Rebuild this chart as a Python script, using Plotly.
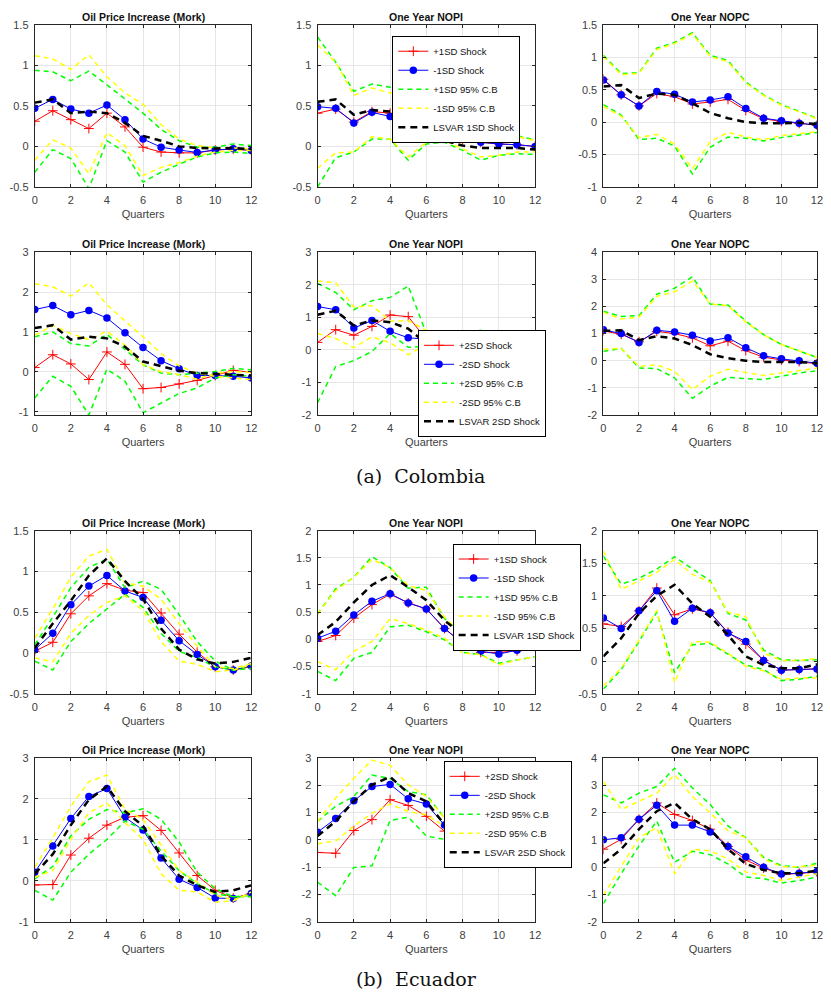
import plotly.graph_objects as go

QUARTERS = list(range(13))

# ---------------- Colombia, Oil Price Increase (Mork), 1SD ----------------
COL_OIL_1SD_POS = [0.31, 0.44, 0.33, 0.22, 0.41, 0.24, -0.01, -0.07, -0.08, -0.08, -0.045, -0.035, -0.05]
COL_OIL_1SD_NEG = [0.47, 0.58, 0.46, 0.41, 0.51, 0.33, 0.09, -0.01, -0.045, -0.075, -0.045, -0.03, -0.05]
COL_OIL_1SD_GUP = [0.94, 0.92, 0.81, 0.93, 0.76, 0.58, 0.41, 0.21, 0.07, -0.01, -0.01, 0.03, 0.01]
COL_OIL_1SD_GLO = [-0.32, -0.04, -0.15, -0.52, 0.07, -0.07, -0.44, -0.32, -0.22, -0.13, -0.08, -0.07, -0.09]
COL_OIL_1SD_YUP = [1.12, 1.08, 0.95, 1.13, 0.86, 0.66, 0.52, 0.27, 0.09, 0.01, -0.02, -0.02, -0.03]
COL_OIL_1SD_YLO = [-0.17, 0.08, -0.02, -0.34, 0.17, 0.01, -0.36, -0.26, -0.2, -0.12, -0.07, -0.05, -0.05]
COL_OIL_1SD_LSV = [0.54, 0.58, 0.41, 0.43, 0.41, 0.29, 0.13, 0.07, 0.0, -0.02, -0.025, -0.02, -0.035]

# ---------------- Colombia, One Year NOPI, 1SD ----------------
COL_NOPI_1SD_POS = [0.41, 0.46, 0.30, 0.43, 0.41, 0.35, 0.17, 0.17, 0.09, 0.05, 0.03, 0.02, 0.0]
COL_NOPI_1SD_NEG = [0.49, 0.47, 0.29, 0.42, 0.37, 0.32, 0.19, 0.18, 0.09, 0.05, 0.03, 0.02, 0.0]
COL_NOPI_1SD_GUP = [1.35, 1.04, 0.68, 0.77, 0.73, 0.70, 0.31, 0.27, 0.22, 0.26, 0.18, 0.13, 0.08]
COL_NOPI_1SD_GLO = [-0.5, -0.14, -0.07, 0.09, 0.09, -0.17, 0.03, 0.05, -0.05, -0.17, -0.11, -0.09, -0.10]
COL_NOPI_1SD_YUP = [1.25, 1.04, 0.63, 0.72, 0.66, 0.70, 0.31, 0.25, 0.21, 0.25, 0.17, 0.12, 0.07]
COL_NOPI_1SD_YLO = [-0.27, -0.08, -0.07, 0.12, 0.09, -0.13, 0.05, 0.07, -0.03, -0.13, -0.11, -0.07, -0.07]
COL_NOPI_1SD_LSV = [0.55, 0.58, 0.39, 0.45, 0.43, 0.31, 0.13, 0.07, 0.01, -0.02, -0.02, -0.02, -0.04]

# ---------------- Colombia, One Year NOPC, 1SD ----------------
COL_NOPC_1SD_POS = [0.66, 0.42, 0.25, 0.44, 0.39, 0.28, 0.31, 0.35, 0.18, 0.05, 0.01, -0.02, -0.05]
COL_NOPC_1SD_NEG = [0.65, 0.42, 0.25, 0.47, 0.43, 0.31, 0.34, 0.39, 0.21, 0.06, 0.02, -0.02, -0.05]
COL_NOPC_1SD_GUP = [1.03, 0.75, 0.76, 1.14, 1.23, 1.38, 1.03, 0.95, 0.62, 0.42, 0.27, 0.17, 0.06]
COL_NOPC_1SD_GLO = [0.27, 0.11, -0.27, -0.25, -0.37, -0.80, -0.39, -0.23, -0.25, -0.29, -0.24, -0.20, -0.16]
COL_NOPC_1SD_YUP = [1.01, 0.73, 0.75, 1.12, 1.21, 1.36, 1.01, 0.93, 0.60, 0.41, 0.26, 0.16, 0.05]
COL_NOPC_1SD_YLO = [0.24, 0.09, -0.24, -0.19, -0.34, -0.72, -0.30, -0.16, -0.23, -0.27, -0.21, -0.18, -0.15]
COL_NOPC_1SD_LSV = [0.55, 0.57, 0.37, 0.44, 0.42, 0.29, 0.14, 0.06, 0.0, -0.02, -0.02, -0.01, -0.03]

# ---------------- Colombia, Oil Price Increase (Mork), 2SD ----------------
COL_OIL_2SD_POS = [0.11, 0.43, 0.2, -0.19, 0.5, 0.19, -0.42, -0.39, -0.3, -0.21, -0.09, 0.04, -0.01]
COL_OIL_2SD_NEG = [1.56, 1.66, 1.43, 1.54, 1.35, 0.98, 0.61, 0.28, 0.08, -0.09, -0.09, -0.11, -0.15]
COL_OIL_2SD_GUP = [0.88, 1.0, 0.71, 0.65, 0.94, 0.56, 0.18, -0.03, -0.07, -0.03, 0.01, 0.09, 0.05]
COL_OIL_2SD_GLO = [-0.65, -0.11, -0.36, -1.08, 0.07, -0.23, -1.02, -0.77, -0.54, -0.4, -0.15, -0.07, -0.11]
COL_OIL_2SD_YUP = [2.21, 2.13, 1.9, 2.23, 1.68, 1.29, 0.88, 0.46, 0.15, -0.03, -0.11, -0.15, -0.19]
COL_OIL_2SD_YLO = [0.92, 1.16, 0.96, 0.81, 1.02, 0.67, 0.18, 0.01, -0.07, -0.18, -0.03, 0.01, -0.01]
COL_OIL_2SD_LSV = [1.1, 1.17, 0.81, 0.88, 0.84, 0.63, 0.26, 0.15, 0.03, -0.03, -0.05, -0.07, -0.09]

# ---------------- Colombia, One Year NOPI, 2SD ----------------
COL_NOPI_2SD_POS = [0.23, 0.62, 0.45, 0.72, 1.07, 1.02, 0.32, 0.35, 0.2, 0.2, 0.13, 0.08, 0.0]
COL_NOPI_2SD_NEG = [1.33, 1.23, 0.67, 0.9, 0.57, 0.37, 0.33, 0.36, 0.16, 0.0, 0.0, 0.02, -0.02]
COL_NOPI_2SD_GUP = [2.04, 1.76, 1.23, 1.51, 1.61, 1.96, 0.5, 0.55, 0.52, 0.6, 0.4, 0.3, 0.2]
COL_NOPI_2SD_GLO = [-1.62, -0.51, -0.33, -0.05, 0.5, 0.08, 0.1, 0.15, -0.1, -0.2, -0.1, -0.15, -0.2]
COL_NOPI_2SD_YUP = [2.11, 2.06, 1.31, 1.36, 0.88, 0.9, 0.6, 0.48, 0.3, 0.28, 0.2, 0.15, 0.05]
COL_NOPI_2SD_YLO = [0.5, 0.35, 0.07, 0.4, 0.22, -0.15, 0.17, 0.2, -0.05, -0.28, -0.18, -0.1, -0.15]
COL_NOPI_2SD_LSV = [1.08, 1.2, 0.75, 0.9, 0.85, 0.65, 0.2, 0.13, 0.02, -0.05, -0.05, -0.05, -0.08]

# ---------------- Colombia, One Year NOPC, 2SD ----------------
COL_NOPC_2SD_POS = [1.1, 0.97, 0.7, 1.08, 1.0, 0.84, 0.55, 0.72, 0.37, 0.13, 0.03, -0.03, -0.11]
COL_NOPC_2SD_NEG = [1.14, 1.0, 0.67, 1.12, 1.06, 0.94, 0.73, 0.85, 0.48, 0.18, 0.07, 0.0, -0.09]
COL_NOPC_2SD_GUP = [1.82, 1.63, 1.66, 2.45, 2.67, 3.09, 2.09, 2.05, 1.46, 0.96, 0.6, 0.36, 0.12]
COL_NOPC_2SD_GLO = [0.34, 0.46, -0.27, -0.29, -0.63, -1.38, -0.94, -0.61, -0.66, -0.69, -0.57, -0.45, -0.37]
COL_NOPC_2SD_YUP = [1.78, 1.54, 1.6, 2.37, 2.54, 2.94, 2.09, 2.03, 1.42, 0.96, 0.6, 0.36, 0.12]
COL_NOPC_2SD_YLO = [0.42, 0.46, -0.21, -0.15, -0.39, -1.06, -0.57, -0.31, -0.43, -0.54, -0.45, -0.35, -0.27]
COL_NOPC_2SD_LSV = [1.1, 1.12, 0.76, 0.9, 0.82, 0.58, 0.24, 0.09, 0.0, -0.05, -0.05, -0.05, -0.09]

# ---------------- Ecuador, Oil Price Increase (Mork), 1SD ----------------
ECU_OIL_1SD_POS = [0.02, 0.13, 0.48, 0.7, 0.85, 0.77, 0.74, 0.49, 0.23, 0.01, -0.17, -0.21, -0.17]
ECU_OIL_1SD_NEG = [0.04, 0.24, 0.59, 0.82, 0.95, 0.76, 0.68, 0.4, 0.15, -0.02, -0.17, -0.21, -0.16]
ECU_OIL_1SD_GUP = [0.1, 0.44, 0.8, 1.05, 1.15, 0.8, 0.88, 0.78, 0.47, 0.14, -0.1, -0.21, -0.15]
ECU_OIL_1SD_GLO = [-0.1, -0.21, 0.14, 0.36, 0.54, 0.72, 0.56, 0.24, 0.02, -0.06, -0.17, -0.21, -0.19]
ECU_OIL_1SD_YUP = [0.18, 0.54, 0.93, 1.19, 1.27, 0.86, 0.82, 0.66, 0.36, 0.08, -0.17, -0.19, -0.13]
ECU_OIL_1SD_YLO = [-0.06, -0.11, 0.24, 0.46, 0.62, 0.7, 0.52, 0.14, -0.1, -0.14, -0.23, -0.21, -0.14]
ECU_OIL_1SD_LSV = [0.06, 0.36, 0.64, 0.95, 1.16, 0.88, 0.66, 0.3, 0.04, -0.08, -0.13, -0.11, -0.06]

# ---------------- Ecuador, One Year NOPI, 1SD ----------------
ECU_NOPI_1SD_POS = [-0.04, 0.07, 0.39, 0.64, 0.83, 0.67, 0.56, 0.2, -0.08, -0.24, -0.24, -0.21, -0.1]
ECU_NOPI_1SD_NEG = [0.02, 0.15, 0.45, 0.7, 0.84, 0.67, 0.56, 0.2, -0.07, -0.22, -0.27, -0.2, -0.1]
ECU_NOPI_1SD_GUP = [0.47, 0.93, 1.14, 1.52, 1.32, 0.94, 0.96, 0.38, 0.11, -0.1, -0.01, -0.01, 0.14]
ECU_NOPI_1SD_GLO = [-0.59, -0.76, -0.35, -0.24, 0.23, 0.26, 0.14, -0.01, -0.24, -0.28, -0.44, -0.38, -0.32]
ECU_NOPI_1SD_YUP = [0.47, 0.9, 1.14, 1.47, 1.32, 0.99, 0.9, 0.41, 0.08, -0.1, -0.07, -0.04, 0.05]
ECU_NOPI_1SD_YLO = [-0.41, -0.56, -0.22, -0.04, 0.38, 0.29, 0.17, 0.02, -0.25, -0.28, -0.47, -0.38, -0.32]
ECU_NOPI_1SD_LSV = [0.08, 0.32, 0.68, 1.0, 1.18, 0.96, 0.72, 0.35, 0.08, -0.05, -0.13, -0.13, -0.05]

# ---------------- Ecuador, One Year NOPC, 1SD ----------------
ECU_NOPC_1SD_POS = [0.57, 0.53, 0.77, 1.12, 0.71, 0.8, 0.74, 0.44, 0.26, 0.01, -0.14, -0.13, -0.12]
ECU_NOPC_1SD_NEG = [0.66, 0.5, 0.77, 1.08, 0.61, 0.81, 0.74, 0.43, 0.3, 0.01, -0.14, -0.13, -0.12]
ECU_NOPC_1SD_GUP = [1.61, 1.18, 1.27, 1.41, 1.6, 1.41, 1.23, 0.73, 0.63, 0.17, 0.02, 0.01, 0.02]
ECU_NOPC_1SD_GLO = [-0.43, -0.13, 0.3, 0.75, -0.18, 0.25, 0.27, 0.1, -0.06, -0.13, -0.3, -0.28, -0.23]
ECU_NOPC_1SD_YUP = [1.69, 1.1, 1.23, 1.36, 1.56, 1.33, 1.21, 0.75, 0.68, 0.12, 0.01, 0.01, 0.04]
ECU_NOPC_1SD_YLO = [-0.38, -0.11, 0.32, 0.78, -0.33, 0.3, 0.29, 0.12, -0.08, -0.15, -0.28, -0.26, -0.26]
ECU_NOPC_1SD_LSV = [0.07, 0.35, 0.73, 1.0, 1.17, 0.88, 0.68, 0.4, 0.07, -0.06, -0.11, -0.11, -0.05]

# ---------------- Ecuador, Oil Price Increase (Mork), 2SD ----------------
ECU_OIL_2SD_POS = [-0.1, -0.09, 0.63, 1.04, 1.36, 1.55, 1.59, 1.23, 0.68, 0.13, -0.23, -0.42, -0.31]
ECU_OIL_2SD_NEG = [0.21, 0.85, 1.52, 2.06, 2.25, 1.55, 1.24, 0.56, 0.04, -0.16, -0.42, -0.43, -0.31]
ECU_OIL_2SD_GUP = [0.05, 0.35, 1.1, 1.5, 1.74, 1.66, 1.76, 1.5, 0.95, 0.21, -0.19, -0.39, -0.35]
ECU_OIL_2SD_GLO = [-0.23, -0.47, 0.21, 0.65, 1.01, 1.46, 1.26, 0.73, 0.25, -0.07, -0.31, -0.39, -0.39]
ECU_OIL_2SD_YUP = [0.33, 1.05, 1.82, 2.42, 2.58, 1.74, 1.5, 0.89, 0.25, -0.03, -0.35, -0.46, -0.31]
ECU_OIL_2SD_YLO = [0.09, 0.25, 1.01, 1.66, 1.9, 1.42, 1.01, 0.17, -0.23, -0.27, -0.52, -0.49, -0.27]
ECU_OIL_2SD_LSV = [0.17, 0.65, 1.36, 1.98, 2.3, 1.7, 1.34, 0.61, 0.13, -0.11, -0.27, -0.23, -0.11]

# ---------------- Ecuador, One Year NOPI, 2SD ----------------
ECU_NOPI_2SD_POS = [-0.46, -0.49, 0.34, 0.74, 1.47, 1.26, 0.86, 0.32, -0.28, -0.34, -0.31, -0.26, -0.02]
ECU_NOPI_2SD_NEG = [0.28, 0.78, 1.43, 1.95, 2.03, 1.5, 1.31, 0.54, -0.02, -0.43, -0.67, -0.56, -0.37]
ECU_NOPI_2SD_GUP = [0.68, 1.23, 1.59, 2.37, 2.25, 1.77, 1.65, 0.8, 0.3, 0.0, -0.25, -0.2, 0.05]
ECU_NOPI_2SD_GLO = [-1.55, -2.04, -1.01, -0.95, 0.71, 0.83, 0.14, 0.02, -0.59, -0.34, -0.71, -0.53, -0.47]
ECU_NOPI_2SD_YUP = [0.68, 1.53, 2.25, 2.92, 2.73, 2.01, 1.59, 0.8, 0.2, -0.16, -0.22, -0.16, 0.08]
ECU_NOPI_2SD_YLO = [-0.14, -0.04, 0.5, 0.98, 1.31, 1.04, 0.92, 0.5, -0.16, -0.46, -0.83, -0.71, -0.62]
ECU_NOPI_2SD_LSV = [0.14, 0.68, 1.41, 2.01, 2.31, 1.71, 1.41, 0.56, -0.1, -0.22, -0.28, -0.26, -0.1]

# ---------------- Ecuador, One Year NOPC, 2SD ----------------
ECU_NOPC_2SD_POS = [0.66, 1.02, 1.75, 2.35, 1.93, 1.71, 1.39, 0.76, 0.26, -0.03, -0.27, -0.22, -0.18]
ECU_NOPC_2SD_NEG = [1.0, 1.08, 1.75, 2.27, 1.54, 1.54, 1.29, 0.76, 0.38, 0.0, -0.25, -0.22, -0.16]
ECU_NOPC_2SD_GUP = [2.65, 2.35, 2.71, 2.95, 3.62, 2.9, 2.29, 1.51, 1.08, 0.36, 0.06, 0.0, 0.14]
ECU_NOPC_2SD_GLO = [-1.33, -0.24, 0.78, 1.69, 0.18, 0.58, 0.46, 0.12, -0.36, -0.42, -0.58, -0.49, -0.36]
ECU_NOPC_2SD_YUP = [3.13, 2.11, 2.41, 2.71, 3.38, 2.59, 1.99, 1.33, 1.08, 0.3, 0.02, 0.02, 0.08]
ECU_NOPC_2SD_YLO = [-1.03, 0.0, 1.08, 1.45, -0.24, 0.66, 0.6, 0.3, -0.18, -0.3, -0.49, -0.36, -0.24]
ECU_NOPC_2SD_LSV = [0.14, 0.66, 1.39, 2.05, 2.35, 1.75, 1.39, 0.66, 0.12, -0.1, -0.22, -0.22, -0.12]

# tick labels
X_TICKS = [0, 2, 4, 6, 8, 10, 12]
Y_TICKS_A = [-0.5, 0, 0.5, 1, 1.5]
Y_TICKS_B = [-1, -0.5, 0, 0.5, 1, 1.5]
Y_TICKS_C = [-1, 0, 1, 2, 3]
Y_TICKS_D = [-2, -1, 0, 1, 2, 3]
Y_TICKS_E = [-2, -1, 0, 1, 2, 3, 4]
Y_TICKS_F = [-1, -0.5, 0, 0.5, 1, 1.5, 2]
Y_TICKS_G = [-0.5, 0, 0.5, 1, 1.5, 2]
Y_TICKS_H = [-3, -2, -1, 0, 1, 2, 3]

TITLES = ["Oil Price Increase (Mork)", "One Year NOPI", "One Year NOPC"]
CAPTIONS = ["(a)\u00a0\u00a0Colombia", "(b)\u00a0\u00a0Ecuador"]

# ---- panel assembly (row, col, title, series, y ticks, y range, legend id, size tag)
PANELS = [
    (0, 0, TITLES[0], (COL_OIL_1SD_POS, COL_OIL_1SD_NEG, COL_OIL_1SD_GUP, COL_OIL_1SD_GLO, COL_OIL_1SD_YUP, COL_OIL_1SD_YLO, COL_OIL_1SD_LSV), Y_TICKS_A, [-0.5, 1.5], None, "1SD"),
    (0, 1, TITLES[1], (COL_NOPI_1SD_POS, COL_NOPI_1SD_NEG, COL_NOPI_1SD_GUP, COL_NOPI_1SD_GLO, COL_NOPI_1SD_YUP, COL_NOPI_1SD_YLO, COL_NOPI_1SD_LSV), Y_TICKS_A, [-0.5, 1.5], "legend", "1SD"),
    (0, 2, TITLES[2], (COL_NOPC_1SD_POS, COL_NOPC_1SD_NEG, COL_NOPC_1SD_GUP, COL_NOPC_1SD_GLO, COL_NOPC_1SD_YUP, COL_NOPC_1SD_YLO, COL_NOPC_1SD_LSV), Y_TICKS_B, [-1, 1.5], None, "1SD"),
    (1, 0, TITLES[0], (COL_OIL_2SD_POS, COL_OIL_2SD_NEG, COL_OIL_2SD_GUP, COL_OIL_2SD_GLO, COL_OIL_2SD_YUP, COL_OIL_2SD_YLO, COL_OIL_2SD_LSV), Y_TICKS_C, [-1.08, 3], None, "2SD"),
    (1, 1, TITLES[1], (COL_NOPI_2SD_POS, COL_NOPI_2SD_NEG, COL_NOPI_2SD_GUP, COL_NOPI_2SD_GLO, COL_NOPI_2SD_YUP, COL_NOPI_2SD_YLO, COL_NOPI_2SD_LSV), Y_TICKS_D, [-2, 3], "legend2", "2SD"),
    (1, 2, TITLES[2], (COL_NOPC_2SD_POS, COL_NOPC_2SD_NEG, COL_NOPC_2SD_GUP, COL_NOPC_2SD_GLO, COL_NOPC_2SD_YUP, COL_NOPC_2SD_YLO, COL_NOPC_2SD_LSV), Y_TICKS_E, [-2, 4], None, "2SD"),
    (2, 0, TITLES[0], (ECU_OIL_1SD_POS, ECU_OIL_1SD_NEG, ECU_OIL_1SD_GUP, ECU_OIL_1SD_GLO, ECU_OIL_1SD_YUP, ECU_OIL_1SD_YLO, ECU_OIL_1SD_LSV), Y_TICKS_A, [-0.5, 1.5], None, "1SD"),
    (2, 1, TITLES[1], (ECU_NOPI_1SD_POS, ECU_NOPI_1SD_NEG, ECU_NOPI_1SD_GUP, ECU_NOPI_1SD_GLO, ECU_NOPI_1SD_YUP, ECU_NOPI_1SD_YLO, ECU_NOPI_1SD_LSV), Y_TICKS_F, [-1, 2], "legend3", "1SD"),
    (2, 2, TITLES[2], (ECU_NOPC_1SD_POS, ECU_NOPC_1SD_NEG, ECU_NOPC_1SD_GUP, ECU_NOPC_1SD_GLO, ECU_NOPC_1SD_YUP, ECU_NOPC_1SD_YLO, ECU_NOPC_1SD_LSV), Y_TICKS_G, [-0.5, 2], None, "1SD"),
    (3, 0, TITLES[0], (ECU_OIL_2SD_POS, ECU_OIL_2SD_NEG, ECU_OIL_2SD_GUP, ECU_OIL_2SD_GLO, ECU_OIL_2SD_YUP, ECU_OIL_2SD_YLO, ECU_OIL_2SD_LSV), Y_TICKS_C, [-1, 3], None, "2SD"),
    (3, 1, TITLES[1], (ECU_NOPI_2SD_POS, ECU_NOPI_2SD_NEG, ECU_NOPI_2SD_GUP, ECU_NOPI_2SD_GLO, ECU_NOPI_2SD_YUP, ECU_NOPI_2SD_YLO, ECU_NOPI_2SD_LSV), Y_TICKS_H, [-3, 3], "legend4", "2SD"),
    (3, 2, TITLES[2], (ECU_NOPC_2SD_POS, ECU_NOPC_2SD_NEG, ECU_NOPC_2SD_GUP, ECU_NOPC_2SD_GLO, ECU_NOPC_2SD_YUP, ECU_NOPC_2SD_YLO, ECU_NOPC_2SD_LSV), Y_TICKS_E, [-2, 4], None, "2SD"),
]

# The page body keeps an 8px margin: size the figure so the page is exactly the
# browser window and place everything in window pixels minus that margin.
OFF = 8
W, H = 831 - 2 * OFF, 1006 - 2 * OFF
COL_X = [(32, 251), (318, 538), (607, 823)]
ROW_Y = [(19, 183), (249, 414), (531, 696), (761, 927)]

FONT = "Liberation Sans, Arial, Helvetica, sans-serif"
AX_COLOR = "#262626"
TICK_COLOR = "#404040"
GRID = "#e6e6e6"


def px(v):
    return (v - OFF) / W


def py(v):
    return 1 - (v - OFF) / H


def fmt(v):
    return "%g" % v


fig = go.Figure()
layout = dict(
    width=W, height=H,
    margin=dict(l=0, r=0, t=0, b=0),
    paper_bgcolor="white", plot_bgcolor="white",
    showlegend=True,
    font=dict(family=FONT, size=10, color=TICK_COLOR),
)
annotations = []

for i, (r, c, title, series, yt, yr, leg, tag) in enumerate(PANELS):
    n = i + 1
    xa = "x" if n == 1 else "x%d" % n
    ya = "y" if n == 1 else "y%d" % n
    x0, x1 = COL_X[c]
    y0, y1 = ROW_Y[r]
    layout["xaxis" if n == 1 else "xaxis%d" % n] = dict(
        domain=[px(x0), px(x1)], anchor=ya, range=[0, 12],
        tickvals=X_TICKS, ticktext=[fmt(v) for v in X_TICKS],
        showline=True, mirror="ticks", linecolor=AX_COLOR, linewidth=1,
        ticks="inside", ticklen=3, tickcolor=AX_COLOR,
        showgrid=True, gridcolor=GRID, gridwidth=1, zeroline=False,
        ticklabelstandoff=3, ticklabeloverflow="allow",
        tickfont=dict(size=11, color=TICK_COLOR, family=FONT),
        title=dict(text="Quarters", font=dict(size=11, color=TICK_COLOR, family=FONT), standoff=5),
    )
    layout["yaxis" if n == 1 else "yaxis%d" % n] = dict(
        domain=[py(y1), py(y0)], anchor=xa, range=yr,
        tickvals=yt, ticktext=[fmt(v) for v in yt],
        showline=True, mirror="ticks", linecolor=AX_COLOR, linewidth=1,
        ticks="inside", ticklen=3, tickcolor=AX_COLOR,
        showgrid=True, gridcolor=GRID, gridwidth=1, zeroline=False,
        ticklabelstandoff=3,
        tickfont=dict(size=11, color=TICK_COLOR, family=FONT),
    )
    annotations.append(dict(
        text="<b>%s</b>" % title, xref="paper", yref="paper",
        x=(px(x0) + px(x1)) / 2, y=py(y0), xanchor="center", yanchor="bottom",
        yshift=0, showarrow=False, font=dict(size=10.5, color="#111111", family=FONT),
    ))

    pos, neg, gup, glo, yup, ylo, lsv = series
    show = leg is not None
    lg = leg if leg else "legend"
    common = dict(xaxis=xa, yaxis=ya, legend=lg, hoverinfo="skip")
    fig.add_trace(go.Scatter(x=QUARTERS, y=pos, mode="lines+markers", name="+%s Shock" % tag,
                             line=dict(color="#ff0000", width=1),
                             marker=dict(symbol="cross-thin", size=7, line=dict(color="#ff0000", width=1)),
                             showlegend=show, **common))
    fig.add_trace(go.Scatter(x=QUARTERS, y=neg, mode="lines+markers", name="-%s Shock" % tag,
                             line=dict(color="#0000ff", width=1),
                             marker=dict(symbol="circle", size=7.5, color="#0000ff"),
                             showlegend=show, **common))
    gid = "g%d" % n
    fig.add_trace(go.Scatter(x=QUARTERS, y=gup, mode="lines", name="+%s 95%% C.B" % tag,
                             line=dict(color="#00ff00", width=1.5, dash="5px,4px"),
                             legendgroup=gid, showlegend=show, **common))
    fig.add_trace(go.Scatter(x=QUARTERS, y=glo, mode="lines", name="+%s 95%% C.B" % tag,
                             line=dict(color="#00ff00", width=1.5, dash="5px,4px"),
                             legendgroup=gid, showlegend=False, **common))
    yid = "yl%d" % n
    fig.add_trace(go.Scatter(x=QUARTERS, y=yup, mode="lines", name="-%s 95%% C.B" % tag,
                             line=dict(color="#ffff00", width=1.5, dash="5px,4px"),
                             legendgroup=yid, showlegend=show, **common))
    fig.add_trace(go.Scatter(x=QUARTERS, y=ylo, mode="lines", name="-%s 95%% C.B" % tag,
                             line=dict(color="#ffff00", width=1.5, dash="5px,4px"),
                             legendgroup=yid, showlegend=False, **common))
    fig.add_trace(go.Scatter(x=QUARTERS, y=lsv, mode="lines", name="LSVAR %s Shock" % tag,
                             line=dict(color="#000000", width=2.5, dash="7px,5px"),
                             showlegend=show, **common))

leg_common = dict(bgcolor="white", bordercolor="#000000", borderwidth=1,
                  font=dict(size=9.5, color="#111111", family=FONT),
                  tracegroupgap=0, itemwidth=30, xanchor="right",
                  xref="paper", yref="paper")
layout["legend"] = dict(x=px(523), y=py(30), yanchor="top", **leg_common)
layout["legend2"] = dict(x=px(549), y=py(436), yanchor="bottom", **leg_common)
layout["legend3"] = dict(x=px(584), y=py(544), yanchor="top", **leg_common)
layout["legend4"] = dict(x=px(575), y=py(764), yanchor="top", **leg_common)

annotations.append(dict(text=CAPTIONS[0], xref="paper", yref="paper", x=px(422), y=py(476),
                        xanchor="center", yanchor="middle", showarrow=False,
                        font=dict(size=19, color="#111111", family="DejaVu Serif, serif")))
annotations.append(dict(text=CAPTIONS[1], xref="paper", yref="paper", x=px(418), y=py(985),
                        xanchor="center", yanchor="middle", showarrow=False,
                        font=dict(size=19, color="#111111", family="DejaVu Serif, serif")))
layout["annotations"] = annotations

fig.update_layout(**layout)
fig.write_html("out.html")
